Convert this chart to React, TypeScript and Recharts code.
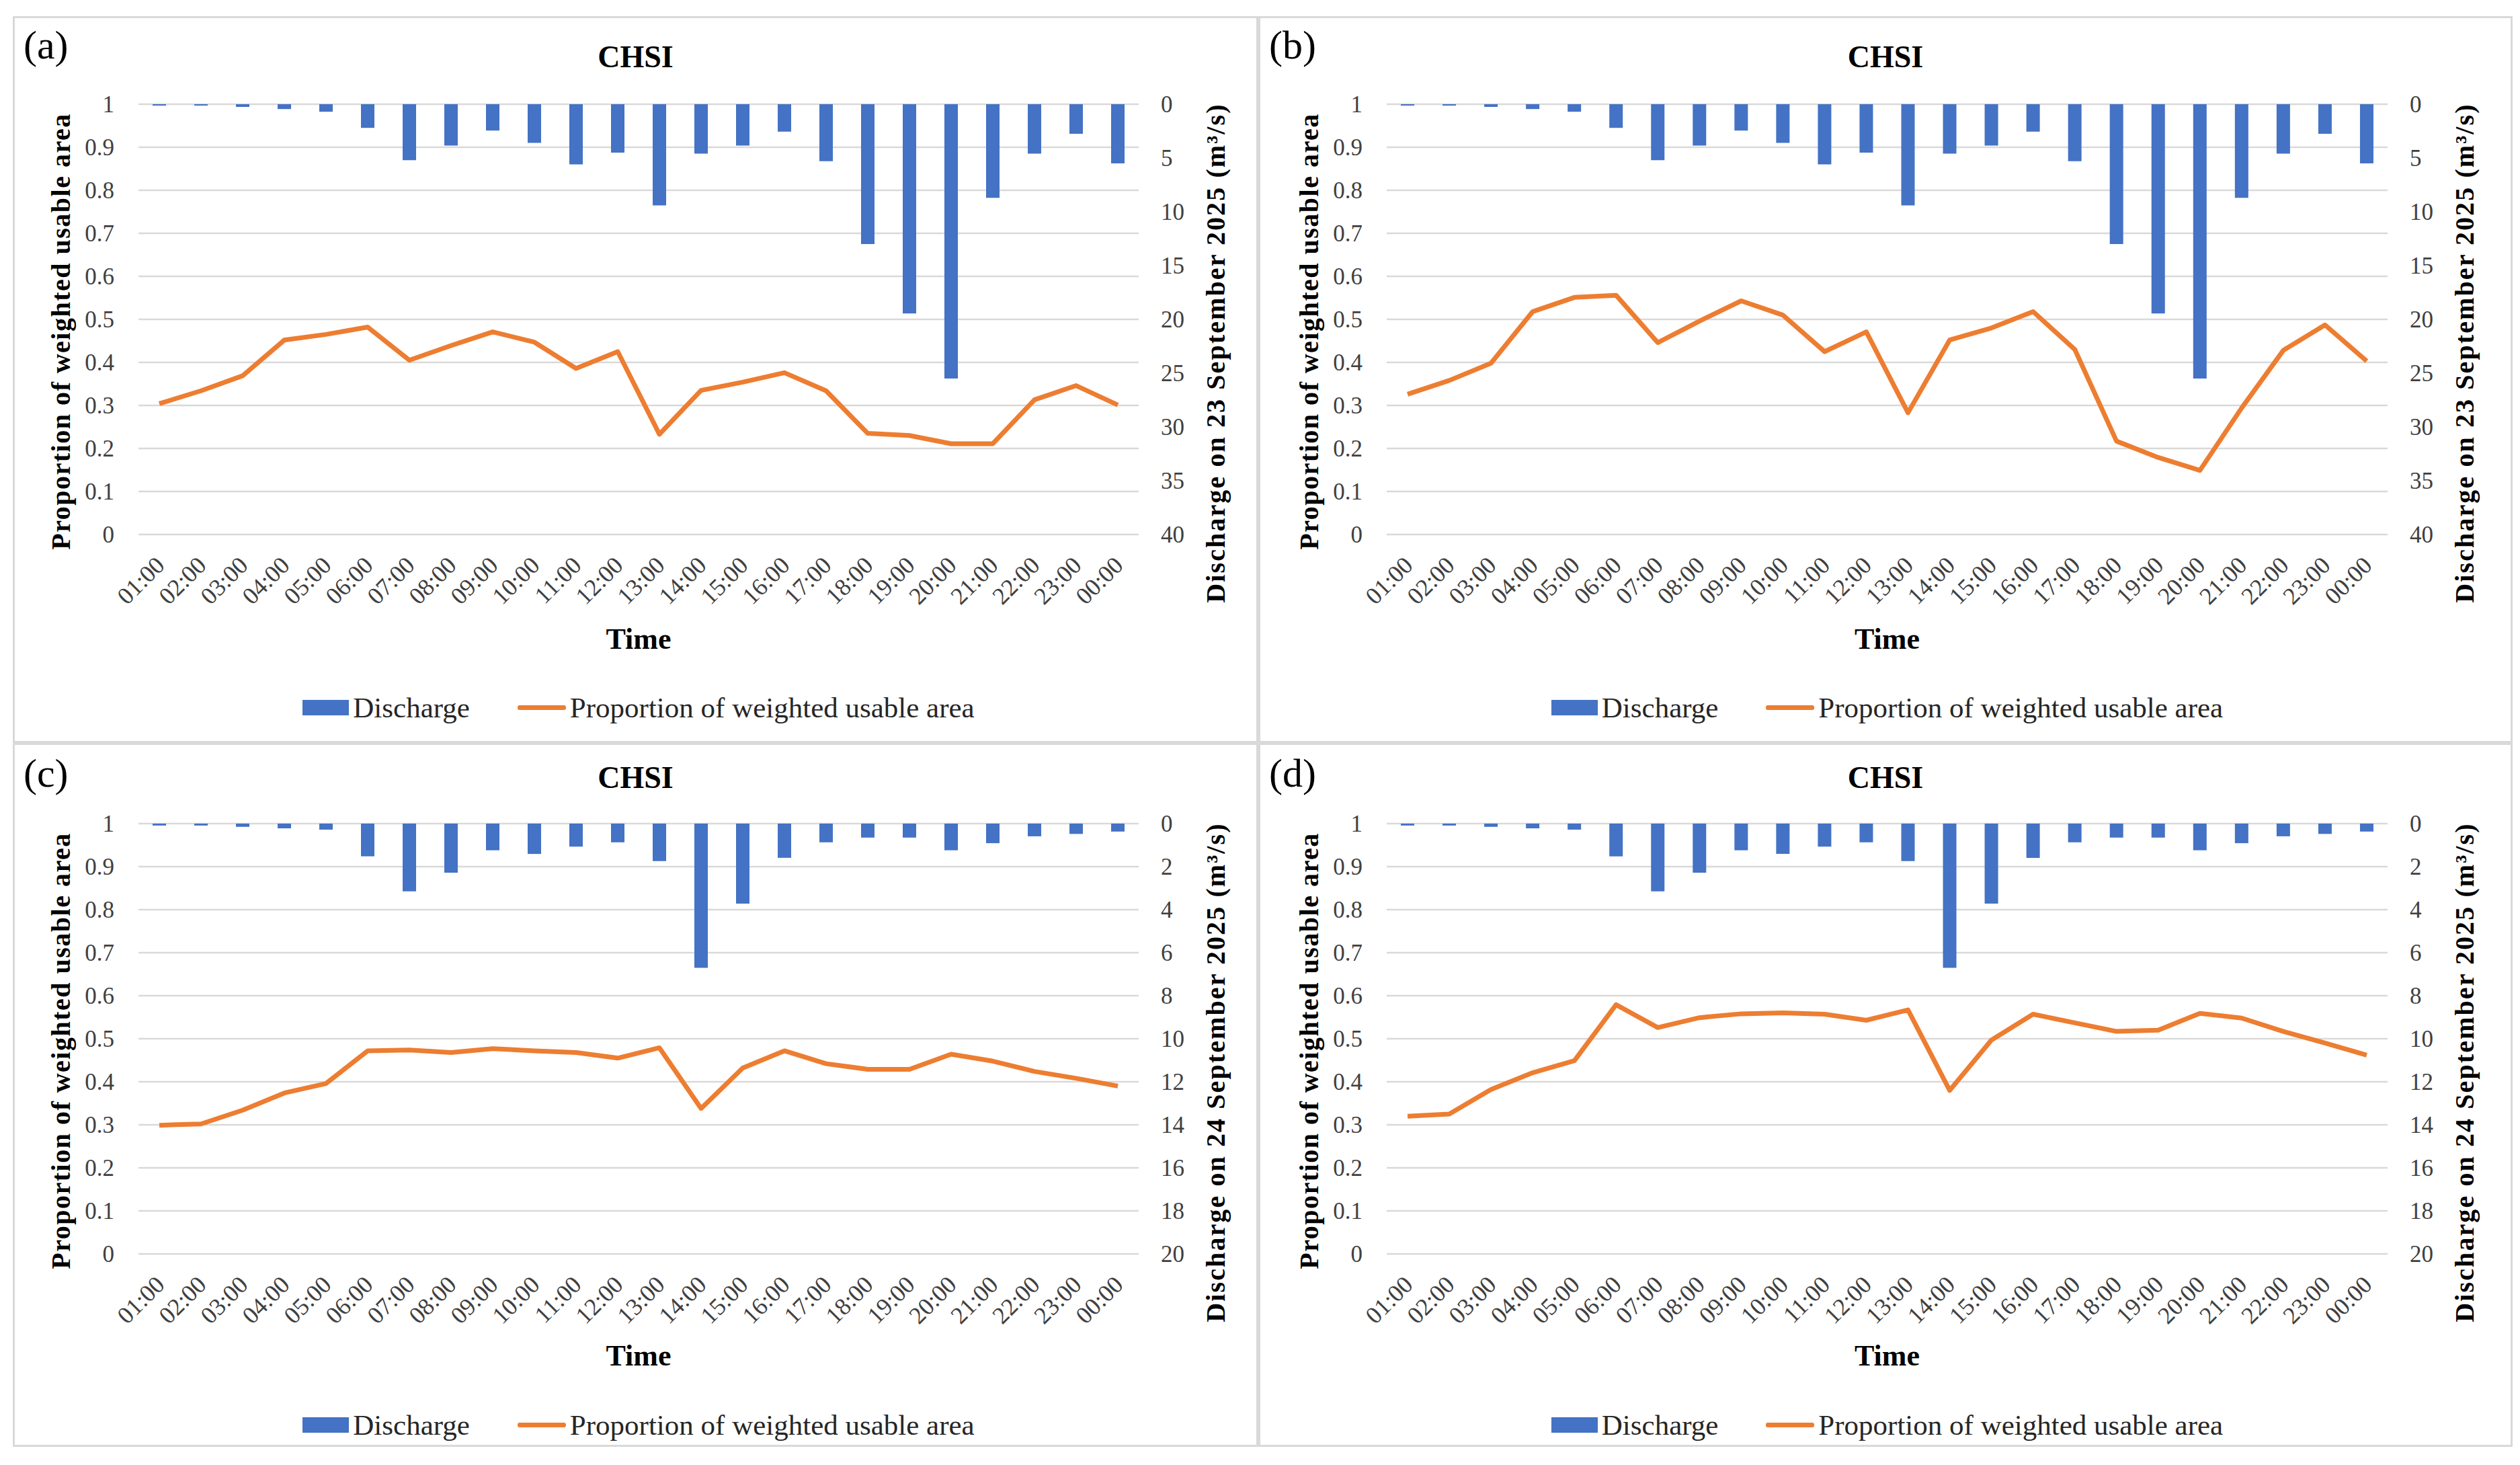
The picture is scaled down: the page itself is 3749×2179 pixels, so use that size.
import React from "react";
import {
  Bar,
  CartesianGrid,
  ComposedChart,
  Label,
  Legend,
  Line,
  XAxis,
  YAxis,
} from "recharts";

const FONT = "'Liberation Serif', 'Times New Roman', serif";
const BLUE = "#4472C4";
const ORANGE = "#ED7D31";
const GRID = "#d9d9d9";
const TICK = "#404040";

const hours = [
  "01:00", "02:00", "03:00", "04:00", "05:00", "06:00", "07:00", "08:00",
  "09:00", "10:00", "11:00", "12:00", "13:00", "14:00", "15:00", "16:00",
  "17:00", "18:00", "19:00", "20:00", "21:00", "22:00", "23:00", "00:00",
];

// discharge (m3/s), same for both panels of a day
const discharge23 = [
  0.13, 0.13, 0.25, 0.45, 0.7, 2.2, 5.2, 3.85, 2.45, 3.6, 5.6, 4.5,
  9.4, 4.6, 3.85, 2.55, 5.3, 13.0, 19.45, 25.5, 8.7, 4.6, 2.75, 5.5,
];
const discharge24 = [
  0.09, 0.09, 0.15, 0.22, 0.28, 1.52, 3.15, 2.28, 1.24, 1.41, 1.07, 0.87,
  1.74, 6.7, 3.72, 1.59, 0.87, 0.65, 0.65, 1.24, 0.91, 0.59, 0.48, 0.37,
];

// proportion of weighted usable area
const pwuaA = [
  0.304, 0.334, 0.369, 0.452, 0.465, 0.482, 0.405, 0.439, 0.471, 0.447, 0.386, 0.425,
  0.233, 0.335, 0.354, 0.376, 0.334, 0.235, 0.23, 0.211, 0.211, 0.313, 0.346, 0.301,
];
const pwuaB = [
  0.326, 0.358, 0.398, 0.518, 0.551, 0.556, 0.446, 0.496, 0.543, 0.51, 0.425, 0.471,
  0.283, 0.452, 0.48, 0.518, 0.43, 0.217, 0.179, 0.149, 0.294, 0.428, 0.487, 0.403,
];
const pwuaC = [
  0.299, 0.302, 0.334, 0.374, 0.396, 0.472, 0.474, 0.468, 0.477, 0.472, 0.468, 0.455,
  0.479, 0.338, 0.432, 0.472, 0.442, 0.429, 0.429, 0.464, 0.448, 0.424, 0.408, 0.39,
];
const pwuaD = [
  0.32, 0.325, 0.382, 0.421, 0.449, 0.579, 0.526, 0.549, 0.558, 0.56, 0.557, 0.543,
  0.567, 0.38, 0.497, 0.557, 0.537, 0.517, 0.52, 0.559, 0.548, 0.517, 0.49, 0.462,
];

const leftTicks = [0, 0.1, 0.2, 0.3, 0.4, 0.5, 0.6, 0.7, 0.8, 0.9, 1];
const rightTicks23 = [0, 5, 10, 15, 20, 25, 30, 35, 40];
const rightTicks24 = [0, 2, 4, 6, 8, 10, 12, 14, 16, 18, 20];

const HourTick = (props: any) => {
  const { x, y, payload } = props;
  return (
    <g transform={`translate(${x + 10},${y + 48})`}>
      <text textAnchor="end" transform="rotate(-45)" fontSize={36} fill={TICK} fontFamily={FONT}>
        {payload.value}
      </text>
    </g>
  );
};

type PanelProps = {
  tag: string;
  left: number;
  top: number;
  width: number;
  height: number;
  pwua: number[];
  discharge: number[];
  rightTicks: number[];
  rightTitle: string;
  plotLeft: number;
  plotRight: number;
  plotTop: number;
  plotBottom: number;
  titleBase: number;
  tagBase: number;
  timeBase: number;
  legendMid: number;
};

function Panel(p: PanelProps) {
  const data = hours.map((h, i) => ({ time: h, discharge: p.discharge[i], pwua: p.pwua[i] }));
  const midY = (p.plotTop + p.plotBottom) / 2;
  const midX = (p.plotLeft + p.plotRight) / 2;
  const leftTitleX = p.plotLeft - 116;
  const leftTitleY = midY + 18;
  const rightTitleX = p.plotRight + 114;
  const rightTitleY = midY + 50;
  const rightMax = p.rightTicks[p.rightTicks.length - 1];

  const renderLegend = () => (
    <div
      style={{
        display: "flex",
        alignItems: "center",
        justifyContent: "center",
        height: 50,
        paddingLeft: (midX - p.width / 2) * 2,
        fontFamily: FONT,
        fontSize: 43,
        color: "#262626",
      }}
    >
      <span style={{ width: 69, height: 23, background: BLUE, display: "inline-block", marginRight: 6 }} />
      <span>Discharge</span>
      <span style={{ width: 72, height: 7, background: ORANGE, display: "inline-block", marginLeft: 71, marginRight: 6, borderRadius: 3 }} />
      <span>Proportion of weighted usable area</span>
    </div>
  );

  return (
    <div style={{ position: "absolute", left: p.left, top: p.top, width: p.width, height: p.height }}>
      <ComposedChart
        width={p.width}
        height={p.height}
        data={data}
        margin={{
          top: p.plotTop,
          left: p.plotLeft - 100,
          right: p.width - p.plotRight - 150,
          bottom: p.height - p.plotBottom - 150,
        }}
      >
        <CartesianGrid yAxisId="left" vertical={false} stroke={GRID} strokeWidth={2.5} />
        <XAxis
          dataKey="time"
          height={150}
          interval={0}
          tickLine={false}
          axisLine={false}
          tickSize={0}
          tickMargin={0}
          tick={<HourTick />}
        >
          <Label
            content={() => (
              <text x={midX} y={p.timeBase} textAnchor="middle" fontSize={44} fontWeight="bold" fontFamily={FONT} fill="#000">
                Time
              </text>
            )}
          />
        </XAxis>
        <YAxis
          yAxisId="left"
          width={100}
          domain={[0, 1]}
          ticks={leftTicks}
          interval={0}
          tickLine={false}
          axisLine={false}
          tickSize={0}
          tickMargin={36}
          tick={{ fontSize: 35, fill: TICK, fontFamily: FONT }}
        >
          <Label
            content={() => (
              <text
                x={leftTitleX}
                y={leftTitleY}
                transform={`rotate(-90, ${leftTitleX}, ${leftTitleY})`}
                textAnchor="middle"
                dominantBaseline="central"
                fontSize={40}
                fontWeight="bold"
                letterSpacing={1.5}
                fontFamily={FONT}
                fill="#000"
              >
                Proportion of weighted usable area
              </text>
            )}
          />
        </YAxis>
        <YAxis
          yAxisId="right"
          orientation="right"
          width={150}
          reversed
          domain={[0, rightMax]}
          ticks={p.rightTicks}
          interval={0}
          tickLine={false}
          axisLine={false}
          tickSize={0}
          tickMargin={33}
          tick={{ fontSize: 35, fill: TICK, fontFamily: FONT, textAnchor: "start" }}
        >
          <Label
            content={() => (
              <text
                x={rightTitleX}
                y={rightTitleY}
                transform={`rotate(-90, ${rightTitleX}, ${rightTitleY})`}
                textAnchor="middle"
                dominantBaseline="central"
                fontSize={40}
                fontWeight="bold"
                letterSpacing={2.1}
                fontFamily={FONT}
                fill="#000"
              >
                {p.rightTitle}
              </text>
            )}
          />
        </YAxis>
        <Bar yAxisId="right" dataKey="discharge" name="Discharge" fill={BLUE} barSize={20} isAnimationActive={false} />
        <Line
          yAxisId="left"
          type="linear"
          dataKey="pwua"
          name="Proportion of weighted usable area"
          stroke={ORANGE}
          strokeWidth={7}
          strokeLinejoin="round"
          dot={false}
          activeDot={false}
          isAnimationActive={false}
        />
        <Legend
          verticalAlign="middle"
          align="center"
          layout="horizontal"
          wrapperStyle={{ top: p.legendMid - 25, left: 0, width: p.width }}
          content={renderLegend}
        />
      </ComposedChart>
      <div
        style={{
          position: "absolute",
          left: 16,
          top: p.tagBase - 50,
          fontFamily: FONT,
          fontSize: 60,
          lineHeight: "60px",
          color: "#000",
        }}
      >
        {p.tag}
      </div>
      <div
        style={{
          position: "absolute",
          left: 0,
          width: p.width,
          top: p.titleBase - 38,
          textAlign: "center",
          fontFamily: FONT,
          fontWeight: "bold",
          fontSize: 46,
          lineHeight: "46px",
          color: "#000",
        }}
      >
        CHSI
      </div>
      <div
        style={{
          position: "absolute",
          inset: 0,
          border: `3px solid ${GRID}`,
          pointerEvents: "none",
        }}
      />
    </div>
  );
}

const topRow = { top: 24, height: 1081, plotTop: 131, plotBottom: 771, titleBase: 76, tagBase: 63, timeBase: 941, legendMid: 1028 };
const bottomRow = { top: 1105, height: 1047, plotTop: 120, plotBottom: 760, titleBase: 67, tagBase: 65, timeBase: 926, legendMid: 1014 };
const leftCol = { left: 19, width: 1853, plotLeft: 187, plotRight: 1675 };
const rightCol = { left: 1872, width: 1866, plotLeft: 191, plotRight: 1680 };

const title23 = "Discharge on 23 September 2025 (m³/s)";
const title24 = "Discharge on 24 September 2025 (m³/s)";

export default function App() {
  return (
    <div style={{ position: "absolute", left: 0, top: 0, width: 3749, height: 2179, background: "#fff" }}>
      <Panel tag="(a)" {...topRow} {...leftCol} pwua={pwuaA} discharge={discharge23} rightTicks={rightTicks23} rightTitle={title23} />
      <Panel tag="(b)" {...topRow} {...rightCol} pwua={pwuaB} discharge={discharge23} rightTicks={rightTicks23} rightTitle={title23} />
      <Panel tag="(c)" {...bottomRow} {...leftCol} pwua={pwuaC} discharge={discharge24} rightTicks={rightTicks24} rightTitle={title24} />
      <Panel tag="(d)" {...bottomRow} {...rightCol} pwua={pwuaD} discharge={discharge24} rightTicks={rightTicks24} rightTitle={title24} />
    </div>
  );
}
